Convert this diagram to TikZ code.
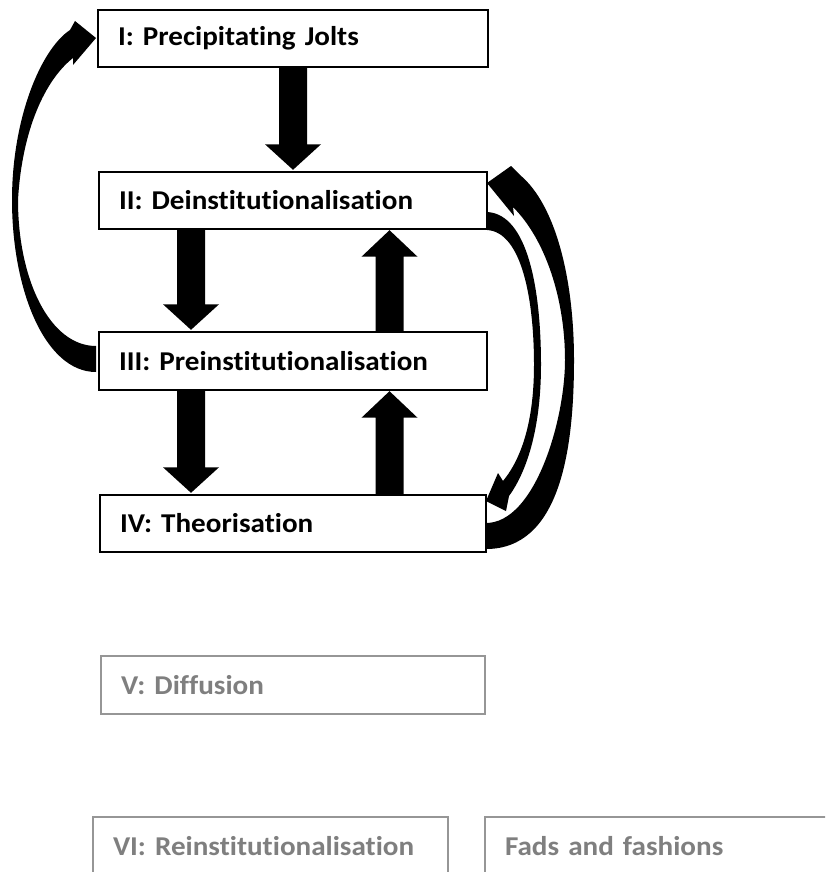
\documentclass[tikz,border=0pt]{standalone}
\usepackage{fontspec}
\setmainfont{Carlito}
\newfontfamily\boxfont{Carlito}[FakeStretch=1.07,RawFeature={-liga;-clig;-dlig}]
\definecolor{greytext}{RGB}{127,127,127}
\definecolor{greyline}{RGB}{150,150,150}
\tikzset{
  stage/.style={draw=black, line width=1.4pt, fill=white, minimum height=57pt, inner xsep=20pt, inner ysep=0pt,
    align=left, font=\boxfont\bfseries\fontsize{27.2}{30}\selectfont, anchor=center},
  greystage/.style={stage, draw=greyline, text=greytext, line width=1.2pt},
  blk/.style={fill=black, draw=none}
}
% vertical block arrows between node anchors, offset #3 from the centre line
\newcommand\blkdown[3]{%
  \fill[blk] ([xshift=#3-14pt]#1.south) -- ([xshift=#3-14pt,yshift=27pt]#2.north) -- ([xshift=#3-28pt,yshift=27pt]#2.north)
   -- ([xshift=#3, yshift=1.5pt]#2.north) -- ([xshift=#3+28pt,yshift=27pt]#2.north) -- ([xshift=#3+14pt,yshift=27pt]#2.north)
   -- ([xshift=#3+14pt]#1.south) -- cycle;}
\newcommand\blkup[3]{%
  \fill[blk] ([xshift=#3-14pt]#1.north) -- ([xshift=#3-14pt,yshift=-27pt]#2.south) -- ([xshift=#3-28pt,yshift=-27pt]#2.south)
   -- ([xshift=#3, yshift=-0.5pt]#2.south) -- ([xshift=#3+28pt,yshift=-27pt]#2.south) -- ([xshift=#3+14pt,yshift=-27pt]#2.south)
   -- ([xshift=#3+14pt]#1.north) -- cycle;}
\begin{document}
\begin{tikzpicture}[x=1pt,y=-1pt]
\useasboundingbox (0,0) rectangle (825,872);
\clip (0,0) rectangle (825,872);
\fill[white] (0,0) rectangle (825,872);

% curved arrows (drawn first, boxes on top)
% left: III -> I
\fill[blk] (96,346) .. controls (50,346) and (18,280) .. (18,200)
  .. controls (22,130) and (45,80) .. (73,58) -- (73,65) -- (96,38) -- (75,21) -- (70,30)
  .. controls (40,50) and (12,120) .. (12,200)
  .. controls (12,290) and (45,372) .. (96,372) -- cycle;
% right inner: II -> IV
\fill[blk] (487,212) .. controls (528,214) and (541,290) .. (541,365)
  .. controls (541,425) and (528,470) .. (509,496) -- (506,511) -- (486,501) -- (498,473) -- (503,481)
  .. controls (522,458) and (534,420) .. (534,365)
  .. controls (534,300) and (522,232) .. (487,230) -- cycle;
% right outer: IV -> II
\fill[blk] (486,523) .. controls (535,523) and (565,420) .. (565,360)
  .. controls (565,300) and (546,240) .. (513,207) -- (514,216) -- (487,183) -- (511,166) -- (520,175)
  .. controls (556,205) and (574,280) .. (574,360)
  .. controls (574,450) and (560,549) .. (486,549) -- cycle;

\node[stage, text width=350pt] (s1) at (293,38.5) {I: Precipitating Jolts};
\node[stage, text width=348pt] (s2) at (293,200.5) {II: Deinstitutionalisation};
\node[stage, text width=348pt, minimum height=58pt] (s3) at (293,361) {III: Preinstitutionalisation};
\node[stage, text width=346pt] (s4) at (293,523.5) {IV: Theorisation};
\node[greystage, text width=344pt, minimum height=58pt] (s5) at (293,685) {V: Diffusion};
\node[greystage, text width=315pt, minimum height=58pt] (s6) at (270.5,846) {VI: Reinstitutionalisation};
\node[greystage, text width=350pt, minimum height=58pt] (s7) at (680,846) {Fads and fashions};

\blkdown{s1}{s2}{0pt}
\blkdown{s2}{s3}{-102pt}
\blkup{s3}{s2}{96.5pt}
\blkdown{s3}{s4}{-102pt}
\blkup{s4}{s3}{96.5pt}
\end{tikzpicture}
\end{document}
